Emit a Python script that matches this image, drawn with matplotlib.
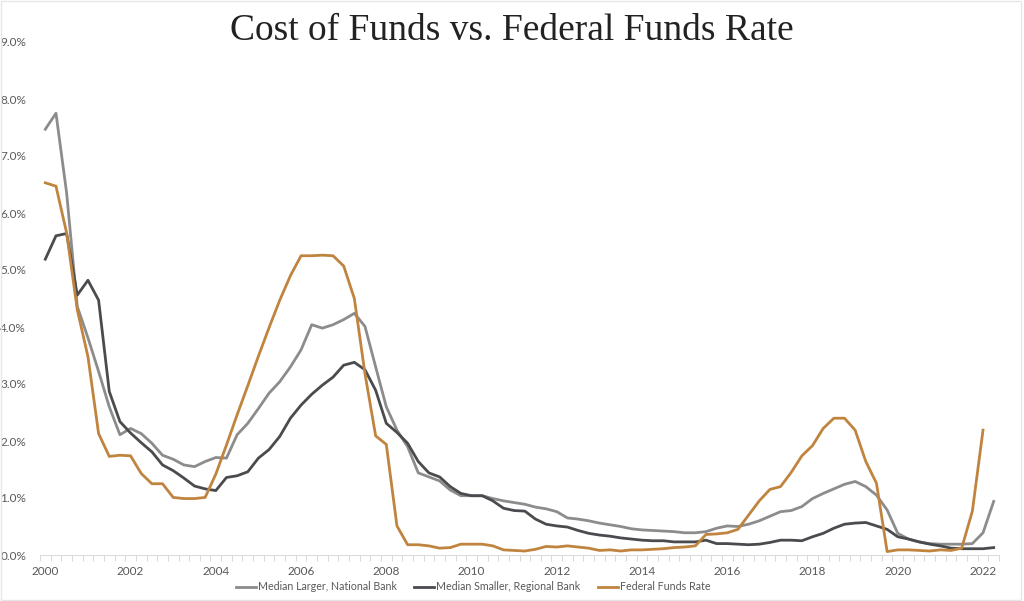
import numpy as np
import matplotlib.pyplot as plt
import matplotlib.patches as patches

# quarterly values, first quarter = 2000
national = [7.47, 7.75, 6.35, 4.36, 3.81, 3.22, 2.60, 2.11, 2.22, 2.13,
            1.96, 1.75, 1.68, 1.58, 1.55, 1.64, 1.71, 1.70, 2.11, 2.31,
            2.57, 2.84, 3.04, 3.30, 3.60, 4.04, 3.98, 4.04, 4.13, 4.24,
            4.01, 3.30, 2.60, 2.19, 1.90, 1.44, 1.37, 1.30, 1.14, 1.04,
            1.04, 1.04, 0.99, 0.95, 0.92, 0.89, 0.84, 0.81, 0.76, 0.65,
            0.63, 0.60, 0.56, 0.53, 0.50, 0.46, 0.44, 0.43, 0.42, 0.41,
            0.39, 0.39, 0.41, 0.47, 0.51, 0.50, 0.54, 0.60, 0.68, 0.76,
            0.78, 0.85, 0.99, 1.08, 1.16, 1.24, 1.29, 1.20, 1.05, 0.79,
            0.38, 0.28, 0.23, 0.20, 0.19, 0.19, 0.19, 0.20, 0.39, 0.94]

regional = [5.19, 5.60, 5.64, 4.56, 4.82, 4.47, 2.87, 2.34, 2.14, 1.97,
            1.81, 1.58, 1.48, 1.35, 1.21, 1.16, 1.13, 1.36, 1.39, 1.46,
            1.70, 1.85, 2.08, 2.40, 2.63, 2.82, 2.98, 3.12, 3.33, 3.38,
            3.25, 2.89, 2.31, 2.15, 1.96, 1.64, 1.44, 1.37, 1.20, 1.08,
            1.04, 1.04, 0.95, 0.82, 0.78, 0.77, 0.63, 0.54, 0.51, 0.49,
            0.43, 0.38, 0.35, 0.33, 0.30, 0.28, 0.26, 0.25, 0.25, 0.23,
            0.23, 0.23, 0.26, 0.20, 0.20, 0.19, 0.18, 0.19, 0.22, 0.26,
            0.26, 0.25, 0.32, 0.38, 0.47, 0.54, 0.56, 0.57, 0.51, 0.45,
            0.32, 0.28, 0.23, 0.19, 0.16, 0.12, 0.11, 0.11, 0.11, 0.13]

fed_funds = [6.53, 6.47, 5.65, 4.30, 3.48, 2.13, 1.73, 1.75, 1.74, 1.43,
             1.25, 1.25, 1.01, 0.99, 0.99, 1.01, 1.42, 1.93, 2.46, 2.97,
             3.49, 3.99, 4.47, 4.90, 5.25, 5.25, 5.26, 5.25, 5.07, 4.50,
             3.18, 2.09, 1.94, 0.51, 0.18, 0.18, 0.16, 0.12, 0.13, 0.19,
             0.19, 0.19, 0.16, 0.09, 0.08, 0.07, 0.10, 0.15, 0.14, 0.16,
             0.14, 0.12, 0.08, 0.09, 0.07, 0.09, 0.09, 0.10, 0.11, 0.13,
             0.14, 0.16, 0.36, 0.37, 0.39, 0.45, 0.70, 0.95, 1.15, 1.20,
             1.45, 1.74, 1.92, 2.22, 2.40, 2.40, 2.19, 1.64, 1.26, 0.06,
             0.09, 0.09, 0.08, 0.07, 0.09, 0.08, 0.12, 0.77, 2.19]

year_labels = ['2000', '2002', '2004', '2006', '2008', '2010', '2012',
               '2014', '2016', '2018', '2020', '2022']

c_nat = '#8c8c8c'
c_reg = '#494b4e'
c_fed = '#c0843f'
txt = '#595959'

plt.rcParams['font.family'] = ['Lato', 'DejaVu Sans']

fig = plt.figure(figsize=(10.24, 6.01), dpi=100)
ax = fig.add_axes([40 / 1024, 1 - 555 / 601, 959 / 1024, 513 / 601])

q_nat = np.arange(len(national))
q_fed = np.arange(len(fed_funds))
lw = 2.0
ax.plot(q_nat, national, color=c_nat, lw=lw, label='Median Larger, National Bank')
ax.plot(q_nat, regional, color=c_reg, lw=lw, label='Median Smaller, Regional Bank')
ax.plot(q_fed, fed_funds, color=c_fed, lw=lw, label='Federal Funds Rate')

ax.set_xlim(-0.5, len(national) - 0.5)
ax.set_ylim(0, 9)
ax.set_yticks(np.arange(0, 10, 1))
ax.set_yticklabels([f'{v:.1f}%' for v in range(10)])
ax.set_xticks(np.arange(len(year_labels)) * 8)
ax.set_xticklabels(year_labels)
ax.set_xticks(np.arange(-0.5, len(national), 1), minor=True)
ax.tick_params(axis='x', which='major', length=0, pad=8, labelsize=8.5, labelcolor=txt)
ax.tick_params(axis='x', which='minor', length=4, color='#d9d9d9', width=0.75)
ax.tick_params(axis='y', length=0, pad=10, labelsize=8.5, labelcolor=txt)
for s in ['top', 'right', 'left']:
    ax.spines[s].set_visible(False)
ax.spines['bottom'].set_color('#d9d9d9')
ax.spines['bottom'].set_linewidth(0.75)
ax.set_facecolor('none')

fig.text(0.5, 1 - 31 / 601, 'Cost of Funds vs. Federal Funds Rate', ha='center', va='center',
         fontsize=27, family='Liberation Serif', color='#222222')

leg = fig.legend(loc='center', bbox_to_anchor=(0.462, 1 - 587 / 601), ncol=3, frameon=False,
                 fontsize=7.7, handlelength=1.9, handletextpad=0.2, columnspacing=1.6)
for t in leg.get_texts():
    t.set_color(txt)

fig.patches.append(patches.Rectangle((0.001, 0.002), 0.996, 0.996, transform=fig.transFigure,
                                     fill=False, edgecolor='#e6e6e6', lw=1))

fig.savefig('out.png', dpi=100)
